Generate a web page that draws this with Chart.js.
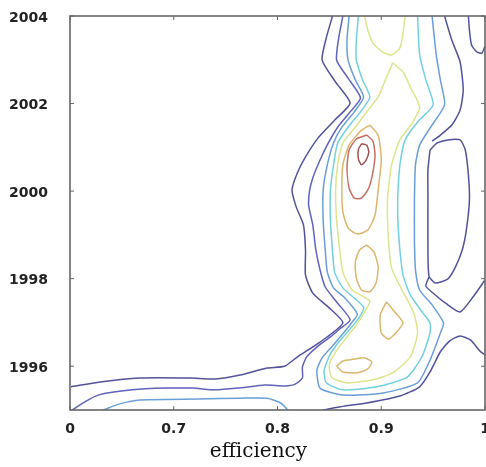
<!DOCTYPE html>
<html>
<head>
<meta charset="utf-8">
<script src="https://cdn.jsdelivr.net/npm/chart.js@4.4.1/dist/chart.umd.min.js"></script>
<style>
  html, body { margin: 0; padding: 0; background: #fff; }
  #wrap { width: 486px; height: 467px; }
</style>
</head>
<body>
<div id="wrap"><canvas id="contour" width="486" height="467"></canvas></div>
<script>
// axis ticks
const xTicks = [0.6, 0.7, 0.8, 0.9, 1.0];
const xTickLabels = ['0', '0.7', '0.8', '0.9', '1'];
const yTicks = [1996, 1998, 2000, 2002, 2004];

// contour lines as [efficiency, year] points, lowest level first
const navyLeft = [[0.601,1995.53],[0.629,1995.64],[0.667,1995.73],[0.716,1995.73],[0.740,1995.71],[0.764,1995.80],[0.790,1995.96],[0.807,1996.00],[0.819,1996.21],[0.841,1996.55],[0.863,1996.99],[0.849,1997.35],[0.834,1997.67],[0.827,1998.08],[0.827,1998.65],[0.825,1999.23],[0.818,1999.64],[0.814,2000.03],[0.819,2000.41],[0.827,2000.78],[0.839,2001.21],[0.855,2001.62],[0.870,2002.01],[0.856,2002.49],[0.843,2002.99],[0.847,2003.50],[0.853,2004.00]];
const navyBottomRight = [[0.844,1995.00],[0.865,1995.09],[0.886,1995.16],[0.918,1995.32],[0.937,1995.53],[0.947,1995.87],[0.957,1996.33],[0.966,1996.58],[0.976,1996.69],[0.986,1996.60],[0.995,1996.35],[1.000,1996.26]];
const navyTopRight = [[0.961,2004.00],[0.968,2003.45],[0.976,2002.95],[0.979,2002.31],[0.976,2001.85],[0.968,2001.51],[0.957,2001.28],[0.949,2001.14]];
const navyPocket = [[0.947,2000.94],[0.954,2001.10],[0.964,2001.17],[0.976,2001.17],[0.981,2000.94],[0.984,2000.37],[0.985,1999.80],[0.982,1999.11],[0.978,1998.65],[0.971,1998.24],[0.964,1997.99],[0.952,1997.90],[0.946,1998.06],[0.945,1998.65],[0.945,1999.80],[0.945,2000.48],[0.947,2000.94]];
const navyNotch = [[1.000,1997.97],[0.989,1997.60],[0.976,1997.24],[0.962,1997.44],[0.951,1997.65],[0.943,1997.83],[0.946,1998.04]];
const navyCorner = [[0.984,2004.00],[0.985,2003.68],[0.987,2003.34],[0.992,2003.18],[0.997,2003.15],[1.000,2003.31]];

const violetLeft = [[0.602,1995.00],[0.614,1995.18],[0.627,1995.34],[0.660,1995.46],[0.692,1995.50],[0.718,1995.50],[0.740,1995.46],[0.762,1995.50],[0.788,1995.57],[0.807,1995.55],[0.817,1995.59],[0.824,1995.73],[0.824,1995.98],[0.828,1996.21],[0.839,1996.46],[0.851,1996.67],[0.860,1996.85],[0.870,1997.06],[0.858,1997.44],[0.846,1997.81],[0.841,1998.20],[0.837,1998.65],[0.834,1999.23],[0.830,1999.68],[0.831,2000.02],[0.834,2000.30],[0.841,2000.71],[0.849,2001.10],[0.858,2001.46],[0.870,2001.81],[0.880,2002.13],[0.868,2002.58],[0.857,2002.99],[0.859,2003.50],[0.863,2004.00]];

const blueBase = [[0.632,1995.00],[0.648,1995.14],[0.667,1995.23],[0.725,1995.25],[0.764,1995.27],[0.790,1995.27],[0.803,1995.16],[0.810,1995.00]];
const blueRidge = [[0.869,2004.00],[0.867,2003.45],[0.868,2002.99],[0.875,2002.54],[0.883,2002.15],[0.874,2001.81],[0.862,2001.46],[0.854,2001.10],[0.848,2000.60],[0.844,2000.02],[0.844,1999.34],[0.846,1998.65],[0.848,1998.15],[0.854,1997.79],[0.865,1997.56],[0.877,1997.19],[0.872,1997.01],[0.863,1996.74],[0.853,1996.46],[0.843,1996.19],[0.838,1995.91],[0.841,1995.50],[0.863,1995.34],[0.902,1995.39],[0.935,1995.62],[0.947,1996.14],[0.957,1996.76],[0.960,1996.99],[0.949,1997.40],[0.937,1997.74],[0.933,1998.20],[0.932,1998.88],[0.932,1999.80],[0.933,2000.60],[0.937,2001.05],[0.947,2001.44],[0.961,2001.97],[0.957,2002.54],[0.953,2003.11],[0.949,2004.00]];

const cyanRidge = [[0.878,2004.00],[0.876,2003.45],[0.876,2002.99],[0.882,2002.54],[0.889,2002.15],[0.880,2001.81],[0.868,2001.46],[0.858,2001.10],[0.854,2000.60],[0.851,2000.02],[0.851,1999.34],[0.853,1998.65],[0.855,1998.15],[0.863,1997.79],[0.883,1997.35],[0.879,1997.12],[0.870,1996.85],[0.860,1996.58],[0.851,1996.28],[0.845,1995.91],[0.847,1995.62],[0.863,1995.46],[0.896,1995.53],[0.925,1995.75],[0.939,1996.21],[0.947,1996.76],[0.947,1996.99],[0.940,1997.22],[0.928,1997.63],[0.921,1998.08],[0.918,1998.65],[0.916,1999.34],[0.916,1999.91],[0.918,2000.60],[0.923,2001.17],[0.935,2001.58],[0.950,2001.97],[0.943,2002.54],[0.937,2003.11],[0.935,2004.00]];

const greenCore = [[0.911,2002.93],[0.921,2002.72],[0.928,2002.38],[0.937,2001.92],[0.930,2001.56],[0.918,2001.17],[0.910,2000.60],[0.906,1999.80],[0.907,1998.88],[0.910,1998.24],[0.920,1997.74],[0.931,1997.24],[0.935,1996.76],[0.928,1996.21],[0.911,1995.85],[0.892,1995.69],[0.867,1995.62],[0.852,1995.75],[0.850,1996.05],[0.856,1996.32],[0.866,1996.64],[0.876,1996.94],[0.884,1997.24],[0.889,1997.49],[0.872,1997.74],[0.863,1998.15],[0.860,1998.65],[0.857,1999.34],[0.856,2000.02],[0.858,2000.60],[0.863,2001.10],[0.875,2001.46],[0.886,2001.81],[0.897,2002.15],[0.904,2002.54],[0.911,2002.93]];
const greenCap = [[0.884,2004.00],[0.887,2003.68],[0.892,2003.38],[0.901,2003.18],[0.910,2003.11],[0.918,2003.27],[0.921,2003.61],[0.923,2004.00]];

const tanPeak = [[0.889,2001.51],[0.897,2001.28],[0.900,2000.71],[0.897,2000.02],[0.894,1999.45],[0.887,1999.11],[0.877,1999.02],[0.868,1999.16],[0.863,1999.52],[0.862,2000.02],[0.863,2000.60],[0.869,2001.05],[0.880,2001.37],[0.889,2001.51]];
const tanMid = [[0.886,1998.77],[0.893,1998.61],[0.897,1998.27],[0.895,1997.90],[0.889,1997.70],[0.881,1997.74],[0.876,1998.01],[0.875,1998.38],[0.879,1998.65],[0.886,1998.77]];
const tanWedge = [[0.905,1997.47],[0.913,1997.24],[0.921,1996.99],[0.914,1996.76],[0.907,1996.62],[0.900,1996.76],[0.899,1997.17],[0.905,1997.47]];
const tanFoot = [[0.857,1996.00],[0.863,1996.12],[0.873,1996.16],[0.884,1996.19],[0.891,1996.10],[0.887,1995.94],[0.877,1995.85],[0.863,1995.87],[0.857,1996.00]];

const redPeak = [[0.886,2001.28],[0.892,2001.14],[0.894,2000.82],[0.892,2000.44],[0.888,2000.07],[0.881,1999.84],[0.874,1999.84],[0.869,2000.07],[0.867,2000.53],[0.869,2000.94],[0.876,2001.19],[0.886,2001.28]];
const crimsonPeak = [[0.881,2001.08],[0.886,2001.05],[0.888,2000.89],[0.885,2000.69],[0.881,2000.60],[0.878,2000.73],[0.878,2000.96],[0.881,2001.08]];

const navy = '#52529a';
const violet = '#6062bc';
const blue = '#6a9ed8';
const cyan = '#72d0e0';
const green = '#dde48c';
const tan = '#dcb66c';
const red = '#c86e64';
const crimson = '#a45050';

function contour(points, color) {
  return {
    data: points.map(([x, y]) => ({ x, y })),
    borderColor: color,
    borderWidth: 1.5,
    showLine: true,
    pointRadius: 0,
    tension: 0.2,
    fill: false
  };
}

// box round the plot plus small inward ticks
const frame = {
  id: 'frame',
  afterDatasetsDraw(chart) {
    const { ctx, chartArea: a } = chart;
    const sx = chart.scales.x, sy = chart.scales.y;
    ctx.save();
    ctx.strokeStyle = '#666';
    ctx.lineWidth = 1.6;
    ctx.strokeRect(a.left, a.top, a.right - a.left, a.bottom - a.top);
    ctx.lineWidth = 1;
    ctx.beginPath();
    xTicks.forEach(v => {
      const px = sx.getPixelForValue(v);
      ctx.moveTo(px, a.top); ctx.lineTo(px, a.top + 4);
      ctx.moveTo(px, a.bottom); ctx.lineTo(px, a.bottom - 4);
    });
    yTicks.forEach(v => {
      const py = sy.getPixelForValue(v);
      ctx.moveTo(a.left, py); ctx.lineTo(a.left + 4, py);
      ctx.moveTo(a.right, py); ctx.lineTo(a.right - 4, py);
    });
    ctx.stroke();
    ctx.restore();
  }
};

new Chart(document.getElementById('contour'), {
  type: 'scatter',
  data: {
    datasets: [
      contour(navyLeft, navy),
      contour(navyBottomRight, navy),
      contour(navyTopRight, navy),
      contour(navyPocket, navy),
      contour(navyNotch, navy),
      contour(navyCorner, navy),
      contour(violetLeft, violet),
      contour(blueBase, blue),
      contour(blueRidge, blue),
      contour(cyanRidge, cyan),
      contour(greenCore, green),
      contour(greenCap, green),
      contour(tanPeak, tan),
      contour(tanMid, tan),
      contour(tanWedge, tan),
      contour(tanFoot, tan),
      contour(redPeak, red),
      contour(crimsonPeak, crimson)
    ]
  },
  options: {
    responsive: false,
    animation: false,
    devicePixelRatio: 1,
    layout: { padding: { top: 16, right: 1, left: 0, bottom: 0 } },
    plugins: {
      legend: { display: false },
      tooltip: { enabled: false }
    },
    scales: {
      x: {
        type: 'linear',
        min: 0.6,
        max: 1.0,
        afterBuildTicks: s => { s.ticks = xTicks.map(v => ({ value: v })); },
        afterFit: s => { s.height = 57; s.paddingLeft = 0; s.paddingRight = 0; },
        ticks: {
          callback: (v, i) => xTickLabels[i],
          font: { family: 'DejaVu Sans', size: 14, weight: 'bold' },
          color: '#222',
          padding: 11,
          maxRotation: 0
        },
        grid: { display: false, drawTicks: false },
        border: { display: false },
        title: {
          display: true,
          // trailing spaces nudge the label left of centre
          text: 'efficiency\u00a0\u00a0\u00a0\u00a0\u00a0\u00a0',
          font: { family: 'DejaVu Serif', size: 20 },
          color: '#111',
          padding: { top: 0, bottom: 3 }
        }
      },
      y: {
        type: 'linear',
        min: 1995,
        max: 2004,
        afterBuildTicks: s => { s.ticks = yTicks.map(v => ({ value: v })); },
        afterFit: s => { s.width = 70; s.paddingTop = 0; s.paddingBottom = 0; },
        ticks: {
          callback: v => String(v),
          font: { family: 'DejaVu Sans', size: 14, weight: 'bold' },
          color: '#222',
          padding: 22,
          labelOffset: 2
        },
        grid: { display: false, drawTicks: false },
        border: { display: false }
      }
    }
  },
  plugins: [frame]
});
</script>
</body>
</html>
